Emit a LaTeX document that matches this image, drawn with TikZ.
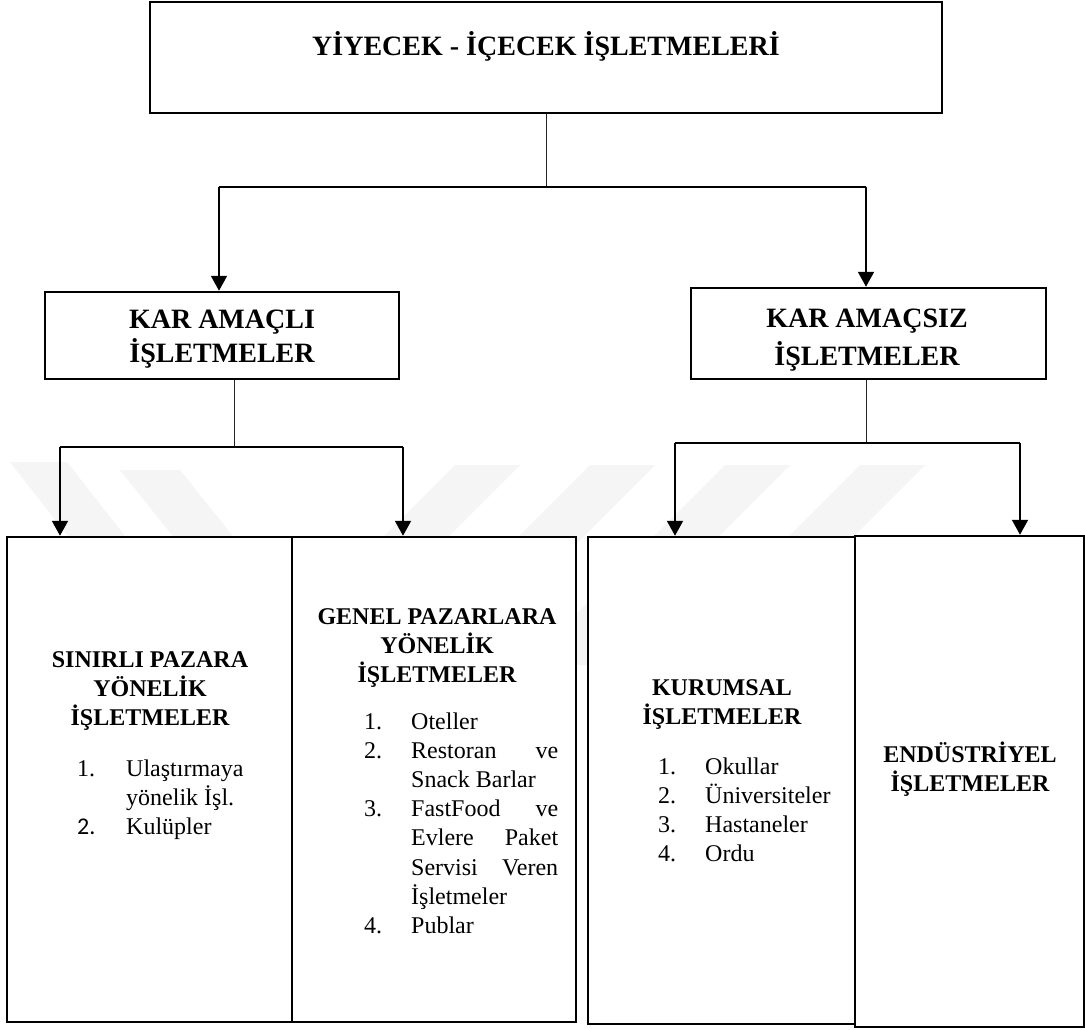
\documentclass[tikz,border=0pt]{standalone}
\usepackage{fontspec}
\setmainfont{Liberation Serif}
\newfontfamily\numsans{Carlito}
\usetikzlibrary{arrows.meta}
% a line stretched to the full text column (justified)
\newcommand\jline[1]{\makebox[147pt][s]{#1}}

\begin{document}
\begin{tikzpicture}[x=1pt,y=-1pt,
  boxs/.style={draw, line width=2.5pt, fill=white, rectangle, inner sep=0pt},
  thinline/.style={line width=1pt, draw=black!85},
  bar/.style={line width=1.4pt},
  arr/.style={line width=2pt, -{Triangle[width=16pt,length=15pt]}},
  bigtext/.style={font=\fontsize{28}{34}\selectfont\bfseries, inner sep=0pt, anchor=base},
  bigtextwide/.style={font=\fontsize{28}{38}\selectfont\bfseries, inner sep=0pt, anchor=base},
  head/.style={font=\fontsize{24}{29.2}\selectfont\bfseries, inner sep=0pt, anchor=base},
  items/.style={font=\fontsize{24}{29.2}\selectfont, inner sep=0pt, anchor=base west},
  wm/.style={fill=black!4, draw=none}]
\useasboundingbox (0,0) rectangle (1085,1030);
\fill[white] (0,0) rectangle (1085,1030);

% faint background chevrons
\fill[wm] (10,462) -- (67,462) -- (200,632) -- (143,632) -- cycle;
\fill[wm] (120,470) -- (180,470) -- (300,620) -- (240,620) -- cycle;
\foreach \xa in {455,590,725,860}{
  \fill[wm] (\xa,465) -- (\xa+65,465) -- (\xa-135,665) -- (\xa-200,665) -- cycle;
}

% boxes
\node[boxs, minimum width=792pt, minimum height=111pt] (top) at (546,57.5) {};
\node[boxs, minimum width=354pt, minimum height=87pt] (kl) at (222,335.5) {};
\node[boxs, minimum width=355pt, minimum height=91pt] (kr) at (868.5,333.5) {};
\node[boxs, minimum width=285pt, minimum height=485pt] (b1) at (149.5,779.5) {};
\node[boxs, minimum width=284pt, minimum height=485pt] (b2) at (434,779.5) {};
\node[boxs, minimum width=267pt, minimum height=487pt] (b3) at (721.5,780.5) {};
\node[boxs, minimum width=229pt, minimum height=491pt] (b4) at (969.5,781.5) {};

% texts
\node[bigtext] (ttop) at (546,56) {YİYECEK - İÇECEK İŞLETMELERİ};
\node[bigtext] (tkl) at (222,328) {\begin{tabular}[t]{@{}c@{}}KAR AMAÇLI\\İŞLETMELER\end{tabular}};
\node[bigtextwide] (tkr) at (867,327) {\begin{tabular}[t]{@{}c@{}}KAR AMAÇSIZ\\İŞLETMELER\end{tabular}};

\node[head] (h1) at (150,667) {\begin{tabular}[t]{@{}c@{}}SINIRLI PAZARA\\YÖNELİK\\İŞLETMELER\end{tabular}};
\node[items] (l1) at (77,776) {\begin{tabular}[t]{@{}p{49pt}@{}l@{}}
1. & Ulaştırmaya\\
   & yönelik İşl.\\
{\numsans 2.} & Kulüpler
\end{tabular}};

\node[head] (h2) at (437,624) {\begin{tabular}[t]{@{}c@{}}GENEL PAZARLARA\\YÖNELİK\\İŞLETMELER\end{tabular}};
\node[items] (l2) at (364,729) {\begin{tabular}[t]{@{}p{47pt}@{}l@{}}
1. & Oteller\\
2. & \jline{Restoran ve}\\
   & Snack Barlar\\
3. & \jline{FastFood ve}\\
   & \jline{Evlere Paket}\\
   & \jline{Servisi Veren}\\
   & İşletmeler\\
4. & Publar
\end{tabular}};

\node[head] (h3) at (722,695) {\begin{tabular}[t]{@{}c@{}}KURUMSAL\\İŞLETMELER\end{tabular}};
\node[items] (l3) at (658,774) {\begin{tabular}[t]{@{}p{47pt}@{}l@{}}
1. & Okullar\\
2. & Üniversiteler\\
3. & Hastaneler\\
4. & Ordu
\end{tabular}};

\node[head] (h4) at (970,762) {\begin{tabular}[t]{@{}c@{}}ENDÜSTRİYEL\\İŞLETMELER\end{tabular}};

% first level connectors
\coordinate (j0) at (546,187);
\coordinate (jl) at (219,187);
\coordinate (jr) at (866,187);
\draw[thinline] (top) -- (j0);
\draw[bar] (jl) -- (jr);
\draw[arr] (jl) -- (jl |- kl.north);
\draw[arr] (jr) -- (jr |- kr.north);

% second level, left
\coordinate (k0) at (234,447);
\coordinate (kla) at (60,447);
\coordinate (klb) at (403,447);
\draw[thinline] (k0 |- kl.south) -- (k0);
\draw[bar] (kla) -- (klb);
\draw[arr] (kla) -- (kla |- b1.north);
\draw[arr] (klb) -- (klb |- b2.north);

% second level, right
\coordinate (r0) at (866,443);
\coordinate (kra) at (675,443);
\coordinate (krb) at (1020,443);
\draw[thinline] (r0 |- kr.south) -- (r0);
\draw[bar] (kra) -- (krb);
\draw[arr] (kra) -- (kra |- b3.north);
\draw[arr] (krb) -- (krb |- b4.north);
\end{tikzpicture}
\end{document}
